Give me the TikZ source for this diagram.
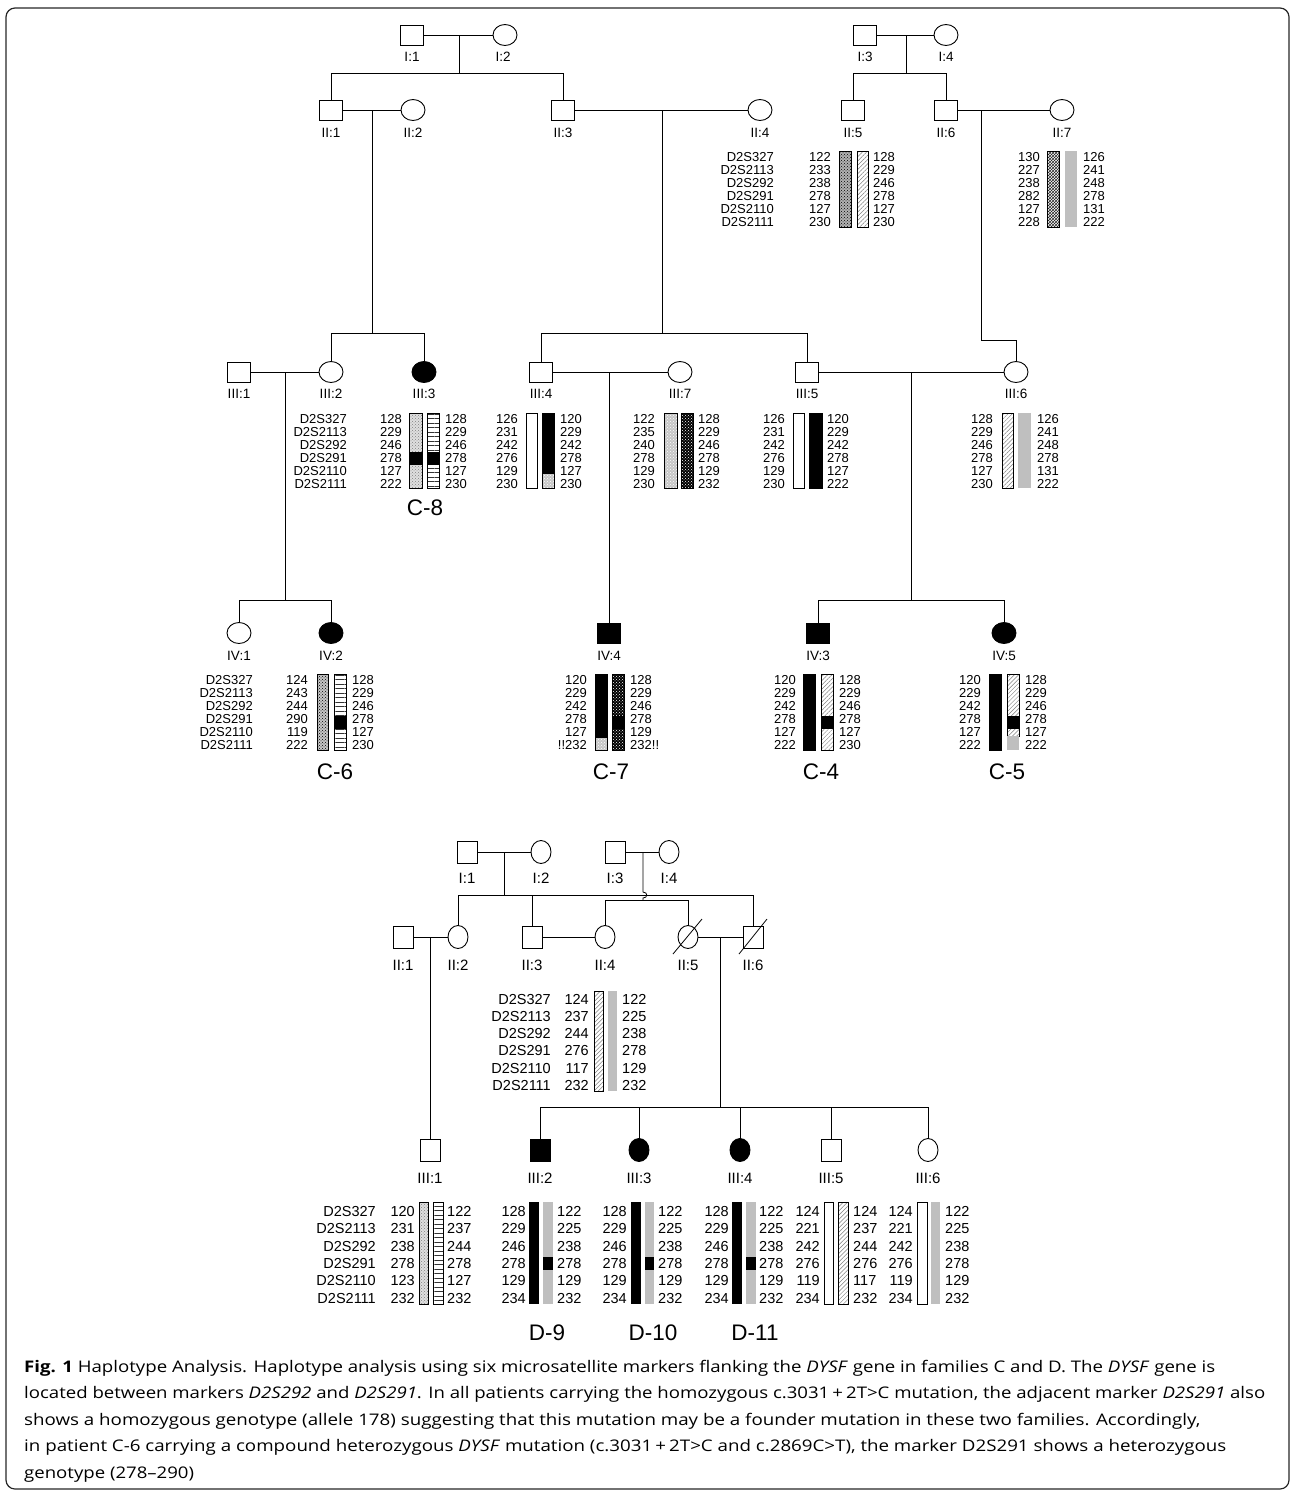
\documentclass[tikz,border=0pt]{standalone}
\usepackage{fontspec}
\usepackage{graphicx}
\setmainfont{Liberation Sans}
\newfontfamily\capfont{Open Sans}
\usetikzlibrary{shapes.geometric,patterns,patterns.meta}
\tikzset{
  ind/.style={draw=black, line width=0.9pt, inner sep=0pt, outer sep=0pt},
  male/.style={ind, rectangle, minimum width=23pt, minimum height=20pt},
  female/.style={ind, ellipse, minimum width=24pt, minimum height=21pt},
  maleD/.style={ind, rectangle, minimum width=20pt, minimum height=22pt},
  femaleD/.style={ind, ellipse, minimum width=20pt, minimum height=23pt},
  aff/.style={fill=black},
  lbl/.style={font=\fontsize{13.5}{14}\selectfont, inner sep=0pt},
  lblD/.style={font=\fontsize{15}{15}\selectfont, inner sep=0pt},
  ln/.style={line width=0.8pt},
  numC/.style={font=\fontsize{13}{13}\selectfont, inner sep=0pt},
  numD/.style={font=\fontsize{14.5}{15}\selectfont, inner sep=0pt},
  big/.style={font=\fontsize{22.5}{23}\selectfont, inner sep=0pt},
  barline/.style={draw=black, line width=0.8pt},
  darkdots/.style={fill=gray!60, postaction={pattern=crosshatch dots, pattern color=black}},
  zig/.style={fill=white, postaction={pattern=crosshatch, pattern color=black!85}},
  hatch/.style={fill=white, postaction={pattern={Lines[angle=45,distance=3pt,line width=0.5pt]}, pattern color=gray}},
  lightdots/.style={fill=gray!25, postaction={pattern=crosshatch dots, pattern color=gray}},
  hstripe/.style={fill=white, postaction={pattern={Lines[angle=0,distance=4.5pt,line width=0.7pt]}, pattern color=black!80}},
  checker/.style={fill=gray!45, postaction={pattern=crosshatch dots, pattern color=black}},
  lightcross/.style={fill=gray!45, postaction={pattern=crosshatch dots, pattern color=white}},
  blackdots/.style={fill=black, postaction={pattern=crosshatch dots, pattern color=white}},
  grayb/.style={fill=gray!50},
  whiteb/.style={fill=white},
  blackb/.style={fill=black},
  capline/.style={anchor=base west, inner sep=0pt}
}
\newcommand{\hapcol}[6]{\foreach[count=\i] \v in {#6} {\node[#5] (#1\i) at (#2,{#3+(\i-1)*#4}) {\v};}}
\newcommand{\hapseg}[5]{\fill[#5] (#1,#3) rectangle (#2,#4);}
\newcommand{\hapframe}[4]{\draw[barline] (#1,#3) rectangle (#2,#4);}
\newlength\capw
\newcommand{\capset}{\capfont\fontsize{16}{18}\selectfont}
\newcommand{\captwo}{located between markers \textit{D2S292} and \textit{D2S291}. In all patients carrying the homozygous c.3031\,+\,2T>C mutation, the adjacent marker \textit{D2S291} also}
\begin{document}
\settowidth{\capw}{\capset\captwo}%
\pgfmathsetmacro{\capsx}{1241/\capw}%
\begin{tikzpicture}[x=1pt,y=-1pt]
\useasboundingbox (0,0) rectangle (1295,1494);
\draw[line width=1.2pt, rounded corners=9pt, black!85] (6,8) rectangle (1289,1489);

% ================= FAMILY C =================
\node[male] (CI1) at (412,35) {};
\node[female] (CI2) at (505,35) {};
\node[male] (CI3) at (865,35) {};
\node[female] (CI4) at (946,35) {};
\node[lbl] (CI1l) at (412,57) {I:1};
\node[lbl] (CI2l) at (503,57) {I:2};
\node[lbl] (CI3l) at (865,57) {I:3};
\node[lbl] (CI4l) at (946,57) {I:4};
\node[male] (CII1) at (331,110) {};
\node[female] (CII2) at (413,110) {};
\node[male] (CII3) at (563,110) {};
\node[female] (CII4) at (760,110) {};
\node[male] (CII5) at (853,110) {};
\node[male] (CII6) at (946,110) {};
\node[female] (CII7) at (1062,110) {};
\node[lbl] (CII1l) at (331,133) {II:1};
\node[lbl] (CII2l) at (413,133) {II:2};
\node[lbl] (CII3l) at (563,133) {II:3};
\node[lbl] (CII4l) at (760,133) {II:4};
\node[lbl] (CII5l) at (853,133) {II:5};
\node[lbl] (CII6l) at (946,133) {II:6};
\node[lbl] (CII7l) at (1062,133) {II:7};
\node[male] (CIII1) at (239,372) {};
\node[female] (CIII2) at (331,372) {};
\node[female,aff] (CIII3) at (424,372) {};
\node[male] (CIII4) at (541,372) {};
\node[female] (CIII7) at (680,372) {};
\node[male] (CIII5) at (807,372) {};
\node[female] (CIII6) at (1016,372) {};
\node[lbl] (CIII1l) at (239,394) {III:1};
\node[lbl] (CIII2l) at (331,394) {III:2};
\node[lbl] (CIII3l) at (424,394) {III:3};
\node[lbl] (CIII4l) at (541,394) {III:4};
\node[lbl] (CIII7l) at (680,394) {III:7};
\node[lbl] (CIII5l) at (807,394) {III:5};
\node[lbl] (CIII6l) at (1016,394) {III:6};
\node[female] (CIV1) at (239,633) {};
\node[female,aff] (CIV2) at (331,633) {};
\node[male,aff] (CIV4) at (609,633) {};
\node[male,aff] (CIV3) at (818,633) {};
\node[female,aff] (CIV5) at (1004,633) {};
\node[lbl] (CIV1l) at (239,656) {IV:1};
\node[lbl] (CIV2l) at (331,656) {IV:2};
\node[lbl] (CIV4l) at (609,656) {IV:4};
\node[lbl] (CIV3l) at (818,656) {IV:3};
\node[lbl] (CIV5l) at (1004,656) {IV:5};

\coordinate (Cm1) at (459,35); \coordinate (Cs1) at (459,73);
\coordinate (Cm2) at (906,35); \coordinate (Cs2) at (906,73);
\coordinate (Cm3) at (372,110); \coordinate (Cs3) at (372,333);
\coordinate (Cm4) at (662,110); \coordinate (Cs4) at (662,333);
\coordinate (Cm5) at (981,110); \coordinate (Cs5) at (981,340);
\coordinate (Cm6) at (285,372); \coordinate (Cs6) at (285,600);
\coordinate (Cm7) at (609,372);
\coordinate (Cm8) at (911,372); \coordinate (Cs8) at (911,600);
\draw[ln] (CI1) -- (CI2);
\draw[ln] (CI3) -- (CI4);
\draw[ln] (Cm1) -- (Cs1);
\draw[ln] (Cm2) -- (Cs2);
\draw[ln] (CII1.north) -- (CII1.north |- Cs1) -- (CII3.north |- Cs1) -- (CII3.north);
\draw[ln] (CII5.north) -- (CII5.north |- Cs2) -- (CII6.north |- Cs2) -- (CII6.north);
\draw[ln] (CII1) -- (CII2);
\draw[ln] (CII3) -- (CII4);
\draw[ln] (CII6) -- (CII7);
\draw[ln] (Cm3) -- (Cs3);
\draw[ln] (Cm4) -- (Cs4);
\draw[ln] (Cm5) -- (Cs5) -- (CIII6.north |- Cs5) -- (CIII6.north);
\draw[ln] (CIII2.north) -- (CIII2.north |- Cs3) -- (CIII3.north |- Cs3) -- (CIII3.north);
\draw[ln] (CIII4.north) -- (CIII4.north |- Cs4) -- (CIII5.north |- Cs4) -- (CIII5.north);
\draw[ln] (CIII1) -- (CIII2);
\draw[ln] (CIII4) -- (CIII7);
\draw[ln] (CIII5) -- (CIII6);
\draw[ln] (Cm6) -- (Cs6);
\draw[ln] (CIV1.north) -- (CIV1.north |- Cs6) -- (CIV2.north |- Cs6) -- (CIV2.north);
\draw[ln] (Cm7) -- (CIV4.north);
\draw[ln] (Cm8) -- (Cs8);
\draw[ln] (CIV3.north) -- (CIV3.north |- Cs8) -- (CIV5.north |- Cs8) -- (CIV5.north);

% haplotypes C
\hapcol{mA}{774}{161.6}{13}{numC,anchor=base east}{D2S327,D2S2113,D2S292,D2S291,D2S2110,D2S2111}
\hapcol{lA}{831}{161.6}{13}{numC,anchor=base east}{122,233,238,278,127,230}
\hapseg{839}{851}{151}{227}{darkdots}\hapframe{839}{851}{151}{227}
\hapseg{857}{868}{151}{227}{hatch}\hapframe{857}{868}{151}{227}
\hapcol{rA}{873}{161.6}{13}{numC,anchor=base west}{128,229,246,278,127,230}
\hapcol{lB}{1040}{161.6}{13}{numC,anchor=base east}{130,227,238,282,127,228}
\hapseg{1047}{1059}{151}{227}{zig}\hapframe{1047}{1059}{151}{227}
\hapseg{1065}{1077}{151}{227}{grayb}
\hapcol{rB}{1083}{161.6}{13}{numC,anchor=base west}{126,241,248,278,131,222}
\hapcol{mC}{347}{423.6}{12.9}{numC,anchor=base east}{D2S327,D2S2113,D2S292,D2S291,D2S2110,D2S2111}
\hapcol{lC}{402}{423.6}{12.9}{numC,anchor=base east}{128,229,246,278,127,222}
\hapseg{409}{422}{413}{488}{lightdots}\hapseg{409}{422}{452}{465}{blackb}\hapframe{409}{422}{413}{488}
\hapseg{427}{439}{413}{488}{hstripe}\hapseg{427}{439}{452}{465}{blackb}\hapframe{427}{439}{413}{488}
\hapcol{rC}{445}{423.6}{12.9}{numC,anchor=base west}{128,229,246,278,127,230}
\node[big] (C8) at (425,508) {C-8};
\hapcol{lD}{518}{423.6}{12.9}{numC,anchor=base east}{126,231,242,276,129,230}
\hapseg{526}{537}{413}{488}{whiteb}\hapframe{526}{537}{413}{488}
\hapseg{542}{554}{413}{488}{blackb}\hapseg{542}{554}{474}{488}{lightcross}\hapframe{542}{554}{413}{488}
\hapcol{rD}{560}{423.6}{12.9}{numC,anchor=base west}{120,229,242,278,127,230}
\hapcol{lE}{655}{423.6}{12.9}{numC,anchor=base east}{122,235,240,278,129,230}
\hapseg{664}{677}{413}{488}{lightcross}\hapframe{664}{677}{413}{488}
\hapseg{681}{693}{413}{488}{blackdots}\hapframe{681}{693}{413}{488}
\hapcol{rE}{698}{423.6}{12.9}{numC,anchor=base west}{128,229,246,278,129,232}
\hapcol{lF}{785}{423.6}{12.9}{numC,anchor=base east}{126,231,242,276,129,230}
\hapseg{793}{804}{413}{488}{whiteb}\hapframe{793}{804}{413}{488}
\hapseg{809}{822}{413}{488}{blackb}\hapframe{809}{822}{413}{488}
\hapcol{rF}{827}{423.6}{12.9}{numC,anchor=base west}{120,229,242,278,127,222}
\hapcol{lG}{993}{423.6}{12.9}{numC,anchor=base east}{128,229,246,278,127,230}
\hapseg{1002}{1013}{413}{488}{hatch}\hapframe{1002}{1013}{413}{488}
\hapseg{1018}{1031}{413}{488}{grayb}
\hapcol{rG}{1037}{423.6}{12.9}{numC,anchor=base west}{126,241,248,278,131,222}
\hapcol{mH}{253}{684.6}{13}{numC,anchor=base east}{D2S327,D2S2113,D2S292,D2S291,D2S2110,D2S2111}
\hapcol{lH}{308}{684.6}{13}{numC,anchor=base east}{124,243,244,290,119,222}
\hapseg{317}{328}{674}{750}{checker}\hapframe{317}{328}{674}{750}
\hapseg{334}{346}{674}{750}{hstripe}\hapseg{334}{346}{716}{729}{blackb}\hapframe{334}{346}{674}{750}
\hapcol{rH}{352}{684.6}{13}{numC,anchor=base west}{128,229,246,278,127,230}
\node[big] (C6) at (335,772) {C-6};
\hapcol{lI}{587}{684.6}{13}{numC,anchor=base east}{120,229,242,278,127,!!232}
\hapseg{595}{607}{674}{750}{blackb}\hapseg{595}{607}{738}{750}{lightcross}\hapframe{595}{607}{674}{750}
\hapseg{612}{624}{674}{750}{blackdots}\hapseg{612}{624}{716}{729}{blackb}\hapframe{612}{624}{674}{750}
\hapcol{rI}{630}{684.6}{13}{numC,anchor=base west}{128,229,246,278,129,232!!}
\node[big] (C7) at (611,772) {C-7};
\hapcol{lJ}{796}{684.6}{13}{numC,anchor=base east}{120,229,242,278,127,222}
\hapseg{803}{815}{674}{750}{blackb}\hapframe{803}{815}{674}{750}
\hapseg{821}{833}{674}{750}{hatch}\hapseg{821}{833}{716}{729}{blackb}\hapframe{821}{833}{674}{750}
\hapcol{rJ}{839}{684.6}{13}{numC,anchor=base west}{128,229,246,278,127,230}
\node[big] (C4) at (821,772) {C-4};
\hapcol{lK}{981}{684.6}{13}{numC,anchor=base east}{120,229,242,278,127,222}
\hapseg{989}{1001}{674}{750}{blackb}\hapframe{989}{1001}{674}{750}
\hapseg{1007}{1019}{674}{736}{hatch}\hapseg{1007}{1019}{716}{729}{blackb}\hapframe{1007}{1019}{674}{736}
\hapseg{1007}{1019}{736}{750}{grayb}
\hapcol{rK}{1025}{684.6}{13}{numC,anchor=base west}{128,229,246,278,127,222}
\node[big] (C5) at (1007,772) {C-5};

% ================= FAMILY D =================
\node[maleD] (DI1) at (467,852) {};
\node[femaleD] (DI2) at (541,852) {};
\node[maleD] (DI3) at (615,852) {};
\node[femaleD] (DI4) at (669,852) {};
\node[lblD] (DI1l) at (467,878) {I:1};
\node[lblD] (DI2l) at (541,878) {I:2};
\node[lblD] (DI3l) at (615,878) {I:3};
\node[lblD] (DI4l) at (669,878) {I:4};
\node[maleD] (DII1) at (403,937) {};
\node[femaleD] (DII2) at (458,937) {};
\node[maleD] (DII3) at (532,937) {};
\node[femaleD] (DII4) at (605,937) {};
\node[femaleD] (DII5) at (688,937) {};
\node[maleD] (DII6) at (753,937) {};
\node[lblD] (DII1l) at (403,965) {II:1};
\node[lblD] (DII2l) at (458,965) {II:2};
\node[lblD] (DII3l) at (532,965) {II:3};
\node[lblD] (DII4l) at (605,965) {II:4};
\node[lblD] (DII5l) at (688,965) {II:5};
\node[lblD] (DII6l) at (753,965) {II:6};
\node[maleD] (DIII1) at (430,1150) {};
\node[maleD,aff] (DIII2) at (540,1150) {};
\node[femaleD,aff] (DIII3) at (639,1150) {};
\node[femaleD,aff] (DIII4) at (740,1150) {};
\node[maleD] (DIII5) at (831,1150) {};
\node[femaleD] (DIII6) at (928,1150) {};
\node[lblD] (DIII1l) at (430,1178) {III:1};
\node[lblD] (DIII2l) at (540,1178) {III:2};
\node[lblD] (DIII3l) at (639,1178) {III:3};
\node[lblD] (DIII4l) at (740,1178) {III:4};
\node[lblD] (DIII5l) at (831,1178) {III:5};
\node[lblD] (DIII6l) at (928,1178) {III:6};

\coordinate (Dm1) at (504,852); \coordinate (Ds1) at (504,895);
\coordinate (Dm2) at (643,852); \coordinate (Dj1) at (643,892); \coordinate (Dj2) at (643,898); \coordinate (Ds2) at (643,900);
\coordinate (Dm3) at (430,937);
\coordinate (Dm4) at (720,937); \coordinate (Ds4) at (720,1107);
\draw[ln] (DI1) -- (DI2);
\draw[ln] (DI3) -- (DI4);
\draw[ln] (Dm1) -- (Ds1);
\draw[ln] (DII2.north) -- (DII2.north |- Ds1) -- (DII6.north |- Ds1) -- (DII6.north);
\draw[ln] (DII3.north) -- (DII3.north |- Ds1);
\draw[ln] (Dm2) -- (Dj1) .. controls (648,892) and (648,898) .. (Dj2) -- (Ds2);
\draw[ln] (DII4.north) -- (DII4.north |- Ds2) -- (DII5.north |- Ds2) -- (DII5.north);
\draw[ln] (DII1) -- (DII2);
\draw[ln] (DII3) -- (DII4);
\draw[ln] (DII5) -- (DII6);
\draw[ln] ([shift={(-15,17)}]DII5.center) -- ([shift={(14,-18)}]DII5.center);
\draw[ln] ([shift={(-14,17)}]DII6.center) -- ([shift={(14,-18)}]DII6.center);
\draw[ln] (Dm3) -- (DIII1.north);
\draw[ln] (Dm4) -- (Ds4);
\draw[ln] (DIII2.north) -- (DIII2.north |- Ds4) -- (DIII6.north |- Ds4) -- (DIII6.north);
\draw[ln] (DIII3.north) -- (DIII3.north |- Ds4);
\draw[ln] (DIII4.north) -- (DIII4.north |- Ds4);
\draw[ln] (DIII5.north) -- (DIII5.north |- Ds4);

% haplotypes D
\hapcol{mM}{551}{1004.2}{17.2}{numD,anchor=base east}{D2S327,D2S2113,D2S292,D2S291,D2S2110,D2S2111}
\hapcol{lM}{589}{1004.2}{17.2}{numD,anchor=base east}{124,237,244,276,117,232}
\hapseg{594}{603}{991}{1091}{hatch}\hapframe{594}{603}{991}{1091}
\hapseg{608}{617}{991}{1091}{grayb}
\hapcol{rM}{622}{1004.2}{17.2}{numD,anchor=base west}{122,225,238,278,129,232}

\hapcol{mN}{376}{1216.2}{17.4}{numD,anchor=base east}{D2S327,D2S2113,D2S292,D2S291,D2S2110,D2S2111}
\hapcol{lN}{415}{1216.2}{17.4}{numD,anchor=base east}{120,231,238,278,123,232}
\hapseg{419}{428}{1202}{1304}{lightdots}\hapframe{419}{428}{1202}{1304}
\hapseg{433}{443}{1202}{1304}{hstripe}\hapframe{433}{443}{1202}{1304}
\hapcol{rN}{447}{1216.2}{17.4}{numD,anchor=base west}{122,237,244,278,127,232}
\hapcol{lO}{526}{1216.2}{17.4}{numD,anchor=base east}{128,229,246,278,129,234}
\hapseg{529}{539}{1202}{1304}{blackb}
\hapseg{543}{553}{1202}{1304}{grayb}\hapseg{543}{553}{1257}{1270}{blackb}
\hapcol{rO}{557}{1216.2}{17.4}{numD,anchor=base west}{122,225,238,278,129,232}
\node[big] (D9) at (547,1333) {D-9};
\hapcol{lP}{627}{1216.2}{17.4}{numD,anchor=base east}{128,229,246,278,129,234}
\hapseg{631}{641}{1202}{1304}{blackb}
\hapseg{645}{654}{1202}{1304}{grayb}\hapseg{645}{654}{1257}{1270}{blackb}
\hapcol{rP}{658}{1216.2}{17.4}{numD,anchor=base west}{122,225,238,278,129,232}
\node[big] (D10) at (653,1333) {D-10};
\hapcol{lQ}{729}{1216.2}{17.4}{numD,anchor=base east}{128,229,246,278,129,234}
\hapseg{732}{742}{1202}{1304}{blackb}
\hapseg{746}{756}{1202}{1304}{grayb}\hapseg{746}{756}{1257}{1270}{blackb}
\hapcol{rQ}{759}{1216.2}{17.4}{numD,anchor=base west}{122,225,238,278,129,232}
\node[big] (D11) at (755,1333) {D-11};
\hapcol{lR}{820}{1216.2}{17.4}{numD,anchor=base east}{124,221,242,276,119,234}
\hapseg{824}{833}{1202}{1304}{whiteb}\hapframe{824}{833}{1202}{1304}
\hapseg{838}{848}{1202}{1304}{hatch}\hapframe{838}{848}{1202}{1304}
\hapcol{rR}{853}{1216.2}{17.4}{numD,anchor=base west}{124,237,244,276,117,232}
\hapcol{lS}{913}{1216.2}{17.4}{numD,anchor=base east}{124,221,242,276,119,234}
\hapseg{917}{927}{1202}{1304}{whiteb}\hapframe{917}{927}{1202}{1304}
\hapseg{931}{940}{1202}{1304}{grayb}
\hapcol{rS}{945}{1216.2}{17.4}{numD,anchor=base west}{122,225,238,278,129,232}

% ================= CAPTION =================
\node[capline] (cap1) at (24,1372) {\resizebox{1191pt}{\height}{\capset\textbf{Fig. 1} Haplotype Analysis. Haplotype analysis using six microsatellite markers flanking the \textit{DYSF} gene in families C and D. The \textit{DYSF} gene is}};
\node[capline] (cap2) at (24,1398.5) {\resizebox{1241pt}{\height}{\capset\captwo}};
\node[capline] (cap3) at (24,1425) {\resizebox{1176pt}{\height}{\capset shows a homozygous genotype (allele 178) suggesting that this mutation may be a founder mutation in these two families. Accordingly,}};
\node[capline] (cap4) at (24,1451.5) {\resizebox{1202pt}{\height}{\capset in patient C-6 carrying a compound heterozygous \textit{DYSF} mutation (c.3031\,+\,2T>C and c.2869C>T), the marker D2S291 shows a heterozygous}};
\node[capline] (cap5) at (24,1478) {\scalebox{\capsx}[1]{\capset genotype (278–290)}};
\end{tikzpicture}
\end{document}
